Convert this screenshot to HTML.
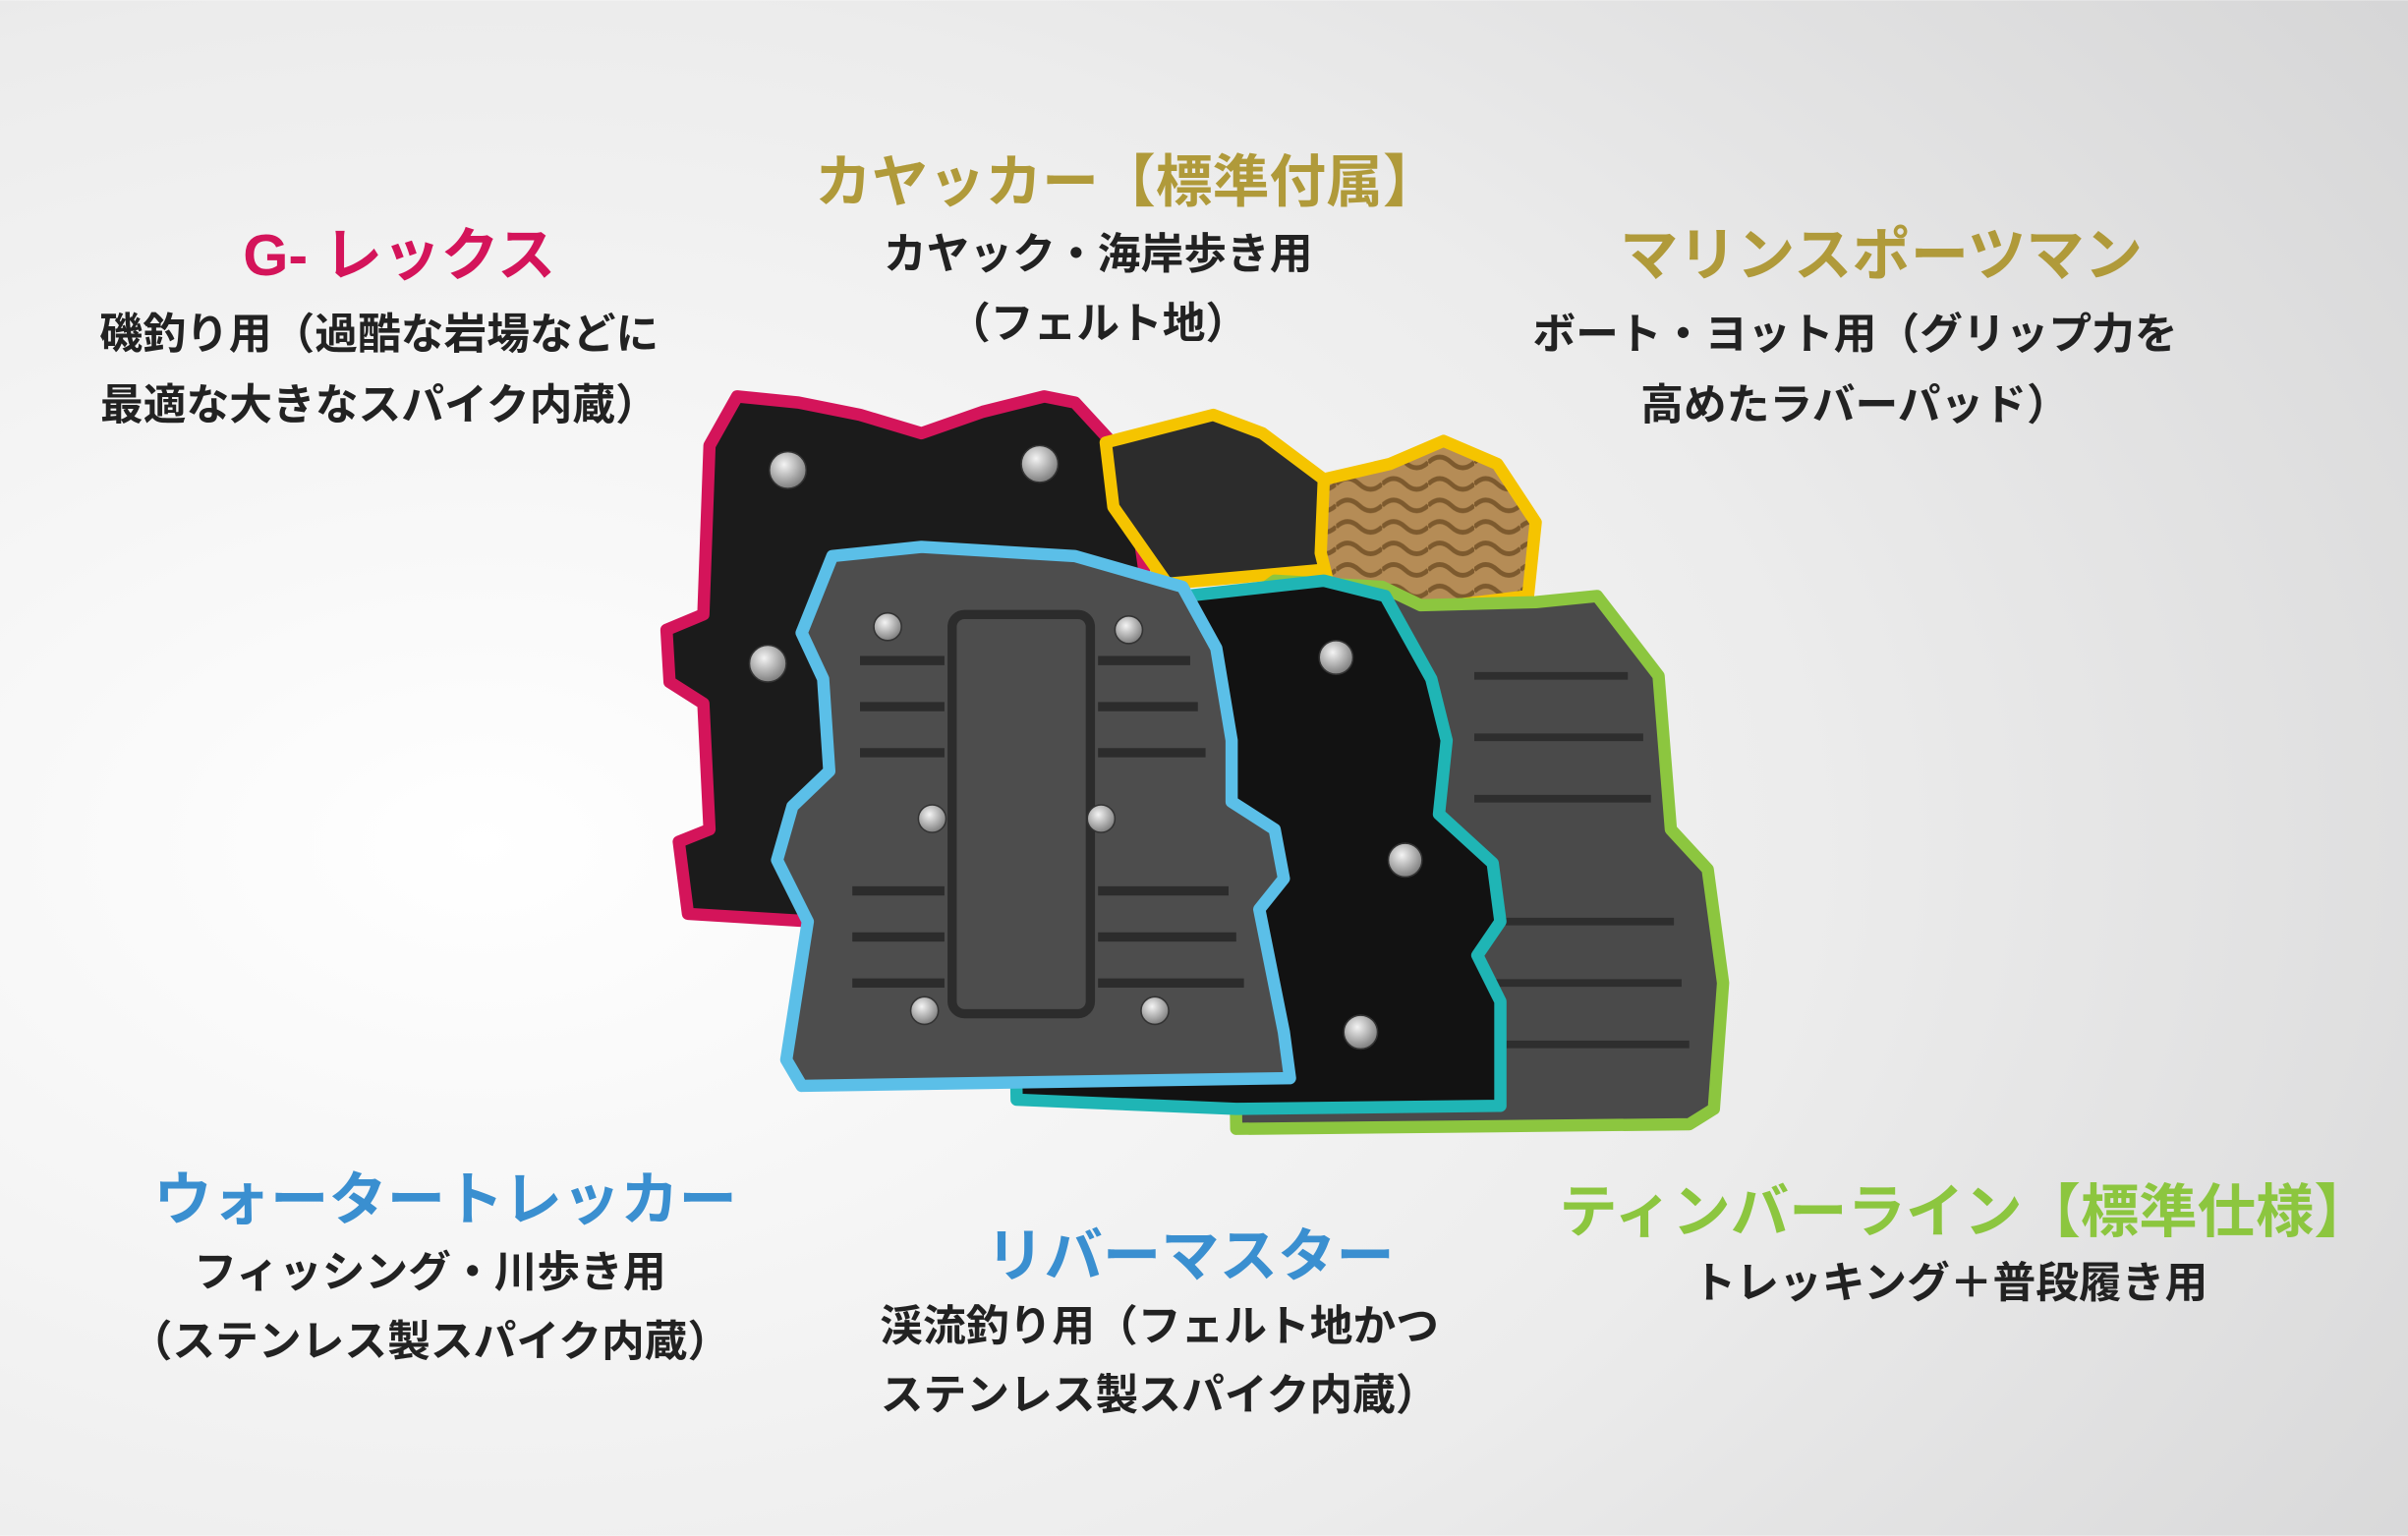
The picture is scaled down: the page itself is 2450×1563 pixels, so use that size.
<!DOCTYPE html>
<html><head><meta charset="utf-8">
<style>
html,body{margin:0;padding:0;width:2450px;height:1563px;overflow:hidden;}
svg{display:block;}
text{font-family:"Liberation Sans","Noto Sans CJK JP",sans-serif;font-weight:700;text-anchor:middle;}
</style></head><body>
<svg width="2450" height="1563" viewBox="0 0 1568 1000" xmlns="http://www.w3.org/2000/svg">
<defs>
<radialGradient id="bg" cx="0.2" cy="0.55" r="1.1">
<stop offset="0" stop-color="#ffffff"/>
<stop offset="0.5" stop-color="#ececec"/>
<stop offset="1" stop-color="#cfcfd0"/>
</radialGradient>
<radialGradient id="rv" cx="0.4" cy="0.35" r="0.7">
<stop offset="0" stop-color="#f4f4f4"/><stop offset="1" stop-color="#777"/>
</radialGradient>
<pattern id="wave" width="30" height="14" patternUnits="userSpaceOnUse">
<rect width="30" height="14" fill="#b58c56"/>
<path d="M0 7 Q7.5 0 15 7 T30 7" stroke="#7d5a2e" stroke-width="3" fill="none"/>
</pattern>
</defs>
<rect width="1568" height="1000" fill="url(#bg)"/>

<!-- G-Rex red -->
<polygon points="462,290 480,258 520,262 560,270 600,282 640,268 680,258 700,262 735,300 745,370 740,600 530,600 448,595 442,548 462,540 458,458 436,444 434,410 458,400" fill="#1b1b1b" stroke="#d4145a" stroke-width="8" stroke-linejoin="round"/>
<!-- Kayaker yellow -->
<polygon points="720,288 790,270 822,282 862,312 872,370 760,380 725,330" fill="#2c2c2c" stroke="#f5c400" stroke-width="8" stroke-linejoin="round"/>
<!-- Marine tan -->
<polygon points="862,312 905,302 940,287 975,302 1000,340 995,388 930,396 868,392 860,360" fill="url(#wave)" stroke="#f5c400" stroke-width="8" stroke-linejoin="round"/>
<!-- Timberline green -->
<polygon points="830,378 900,382 925,394 1000,392 1040,388 1080,440 1088,540 1112,566 1122,640 1116,722 1100,732 805,735 800,400" fill="#4a4a4a" stroke="#8cc63f" stroke-width="8" stroke-linejoin="round"/>
<g stroke="#2e2e2e" stroke-width="5">
<line x1="960" y1="440" x2="1060" y2="440"/><line x1="960" y1="480" x2="1070" y2="480"/><line x1="960" y1="520" x2="1075" y2="520"/><line x1="960" y1="600" x2="1090" y2="600"/><line x1="960" y1="640" x2="1095" y2="640"/><line x1="960" y1="680" x2="1100" y2="680"/>
</g>
<!-- River master teal -->
<polygon points="772,388 862,378 902,388 932,442 942,482 937,530 972,562 977,600 962,622 977,652 977,720 805,722 662,716 660,600" fill="#121212" stroke="#1fb5b5" stroke-width="8" stroke-linejoin="round"/>
<!-- Water trekker blue front -->
<polygon points="542,362 600,356 700,362 770,382 792,422 802,482 802,522 830,540 836,572 820,592 836,672 840,702 522,707 512,690 526,600 506,560 516,525 540,502 536,442 522,412" fill="#4d4d4d" stroke="#5bbfe8" stroke-width="8" stroke-linejoin="round"/>
<g stroke="#2c2c2c" stroke-width="6" fill="none">
<rect x="620" y="400" width="90" height="260" rx="8"/>
<line x1="560" y1="430" x2="615" y2="430"/><line x1="560" y1="460" x2="615" y2="460"/><line x1="560" y1="490" x2="615" y2="490"/><line x1="555" y1="580" x2="615" y2="580"/><line x1="555" y1="610" x2="615" y2="610"/><line x1="555" y1="640" x2="615" y2="640"/>
<line x1="715" y1="430" x2="775" y2="430"/><line x1="715" y1="460" x2="780" y2="460"/><line x1="715" y1="490" x2="785" y2="490"/><line x1="715" y1="580" x2="800" y2="580"/><line x1="715" y1="610" x2="805" y2="610"/><line x1="715" y1="640" x2="810" y2="640"/>
</g>
<!-- rivets -->
<g fill="url(#rv)" stroke="#333" stroke-width="1">
<circle cx="513" cy="306" r="12"/><circle cx="677" cy="302" r="12"/><circle cx="500" cy="432" r="12"/>
<circle cx="870" cy="428" r="11"/><circle cx="915" cy="560" r="11"/><circle cx="886" cy="672" r="11"/>
<circle cx="578" cy="408" r="9"/><circle cx="735" cy="410" r="9"/><circle cx="607" cy="533" r="9"/><circle cx="717" cy="533" r="9"/><circle cx="602" cy="658" r="9"/><circle cx="752" cy="658" r="9"/>
</g>

<!-- Labels -->
<text x="260" y="179" font-size="38" fill="#d4145a">G- レックス</text>
<text x="247" y="227" font-size="28" fill="#222">磯釣り用（過酷な岩場などに</text>
<text x="247" y="273" font-size="28" fill="#222">最適な大きなスパイク内蔵）</text>

<text x="734" y="131" font-size="37" fill="#b09a3a">カヤッカー【標準付属】</text>
<text x="715" y="175" font-size="28" fill="#222">カヤック・海岸歩き用</text>
<text x="715" y="220" font-size="28" fill="#222">（フェルト地）</text>

<text x="1225" y="179" font-size="38" fill="#b09a3a">マリンスポーツマン</text>
<text x="1208" y="227" font-size="28" fill="#222">ボート・ヨット用（グリップ力を</text>
<text x="1208" y="273" font-size="28" fill="#222">高めたラバーパッド）</text>

<text x="290" y="794" font-size="38" fill="#3a8fd0">ウォータートレッカー</text>
<text x="280" y="838" font-size="28" fill="#222">フィッシング・川歩き用</text>
<text x="280" y="883" font-size="28" fill="#222">（ステンレス製スパイク内蔵）</text>

<text x="775" y="831" font-size="38" fill="#3a8fd0">リバーマスター</text>
<text x="755" y="873" font-size="28" fill="#222">渓流釣り用（フェルト地かつ</text>
<text x="755" y="918" font-size="28" fill="#222">ステンレス製スパイク内蔵）</text>

<text x="1280" y="802" font-size="38" fill="#8cc63f">ティンバーライン【標準仕様】</text>
<text x="1270" y="845" font-size="28" fill="#222">トレッキング＋普段履き用</text>
</svg>
</body></html>
